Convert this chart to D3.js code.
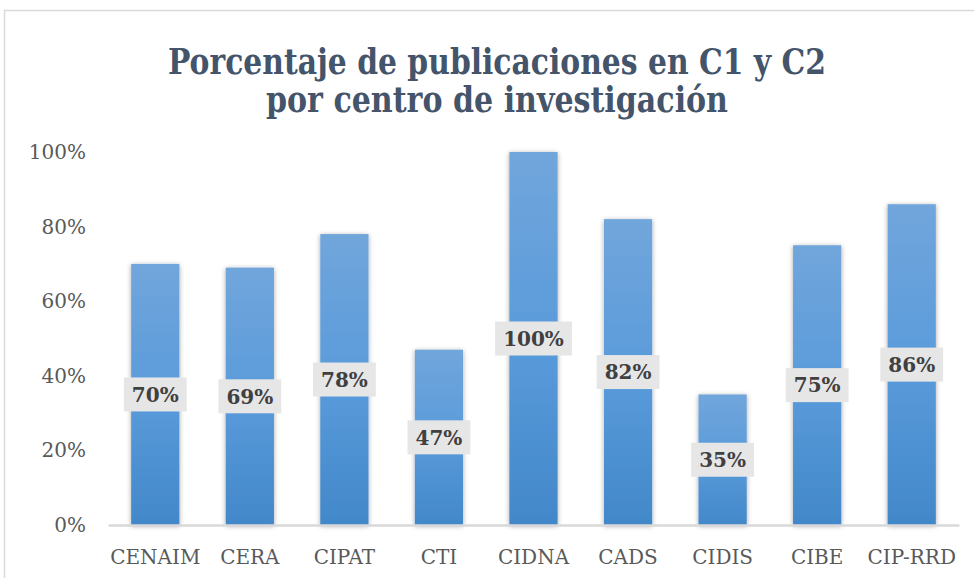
<!DOCTYPE html>
<html>
<head>
<meta charset="utf-8">
<script src="https://cdn.jsdelivr.net/npm/d3@7"></script>
<style>
  body { margin: 0; background: #fff; }
  svg { display: block; }
</style>
</head>
<body>
<svg id="chart"></svg>
<script>
const centros = ["CENAIM", "CERA", "CIPAT", "CTI", "CIDNA", "CADS", "CIDIS", "CIBE", "CIP-RRD"];
const porcentajes = [0.70, 0.69, 0.78, 0.47, 1.00, 0.82, 0.35, 0.75, 0.86];
const yTicks = [0, 0.2, 0.4, 0.6, 0.8, 1.0];
const titulo = ["Porcentaje de publicaciones en C1 y C2", "por centro de investigación"];
const tituloAncho = [658, 462];

function main() {
    const width = 974;
    const height = 578;
    const plot = { left: 108, right: 959, top: 152, bottom: 525 };
    const serif = "'DejaVu Serif', 'Liberation Serif', serif";

    const svg = d3.select("#chart").attr("width", width).attr("height", height);

    const defs = svg.append("defs");
    const grad = defs.append("linearGradient")
        .attr("id", "barGrad").attr("x1", 0).attr("y1", 0).attr("x2", 0).attr("y2", 1);
    grad.append("stop").attr("offset", "0%").attr("stop-color", "#71a6db");
    grad.append("stop").attr("offset", "50%").attr("stop-color", "#5a9bdb");
    grad.append("stop").attr("offset", "100%").attr("stop-color", "#4288c9");

    const shadow = defs.append("filter").attr("id", "shadow")
        .attr("x", "-30%").attr("y", "-10%").attr("width", "160%").attr("height", "120%");
    shadow.append("feDropShadow")
        .attr("dx", 0).attr("dy", 1).attr("stdDeviation", 2.5)
        .attr("flood-color", "#000").attr("flood-opacity", 0.35);

    // chart frame
    svg.append("rect")
        .attr("x", 4.5).attr("y", 10.5).attr("width", 1000).attr("height", 600)
        .attr("fill", "none").attr("stroke", "#d9d9d9").attr("stroke-width", 1.5);

    // title: squeezed a bit to get Cambria-like proportions
    svg.append("g").selectAll("text").data(titulo).join("text")
        .attr("x", 497).attr("y", (d, i) => 74 + i * 38)
        .attr("text-anchor", "middle")
        .attr("font-family", serif).attr("font-weight", "bold")
        .attr("font-size", 35).attr("fill", "#44546a")
        .attr("textLength", (d, i) => tituloAncho[i])
        .attr("lengthAdjust", "spacingAndGlyphs")
        .text(d => d);

    const x = d3.scaleBand().domain(centros).range([plot.left, plot.right])
        .paddingInner(0.49).paddingOuter(0.245);
    const y = d3.scaleLinear().domain([0, 1]).range([plot.bottom, plot.top]);

    const yAxis = d3.axisLeft(y).tickValues(yTicks).tickFormat(d3.format(".0%"))
        .tickSize(0).tickPadding(22);
    const gy = svg.append("g").attr("transform", "translate(" + plot.left + ",0)").call(yAxis);
    gy.select(".domain").remove();
    gy.selectAll("text").attr("font-family", serif).attr("font-size", 20).attr("fill", "#595959");

    const data = centros.map((c, i) => ({ centro: c, valor: porcentajes[i] }));

    svg.append("g").selectAll("rect").data(data).join("rect")
        .attr("x", d => x(d.centro))
        .attr("y", d => y(d.valor))
        .attr("width", x.bandwidth())
        .attr("height", d => y(0) - y(d.valor))
        .attr("fill", "url(#barGrad)")
        .attr("filter", "url(#shadow)");

    const xAxis = d3.axisBottom(x).tickSize(0).tickSizeOuter(0).tickPadding(25);
    const gx = svg.append("g").attr("transform", "translate(0," + plot.bottom + ")").call(xAxis);
    gx.select(".domain").attr("stroke", "#d9d9d9").attr("stroke-width", 2.5);
    gx.selectAll("text").attr("font-family", serif).attr("font-size", 20).attr("fill", "#595959");

    const labels = svg.append("g").selectAll("g").data(data).join("g")
        .attr("transform", d => "translate(" + (x(d.centro) + x.bandwidth() / 2) + "," + ((y(d.valor) + y(0)) / 2) + ")");
    const boxes = labels.append("rect").attr("fill", "#e7e6e6");
    const texts = labels.append("text")
        .attr("text-anchor", "middle").attr("dy", "0.36em")
        .attr("font-family", serif).attr("font-weight", "bold")
        .attr("font-size", 20).attr("fill", "#404040")
        .text(d => d3.format(".0%")(d.valor));
    texts.each(function (d, i) {
        const b = this.getBBox();
        d3.select(boxes.nodes()[i])
            .attr("x", -b.width / 2 - 8).attr("y", -17)
            .attr("width", b.width + 16).attr("height", 34);
    });
}

main();
</script>
</body>
</html>
